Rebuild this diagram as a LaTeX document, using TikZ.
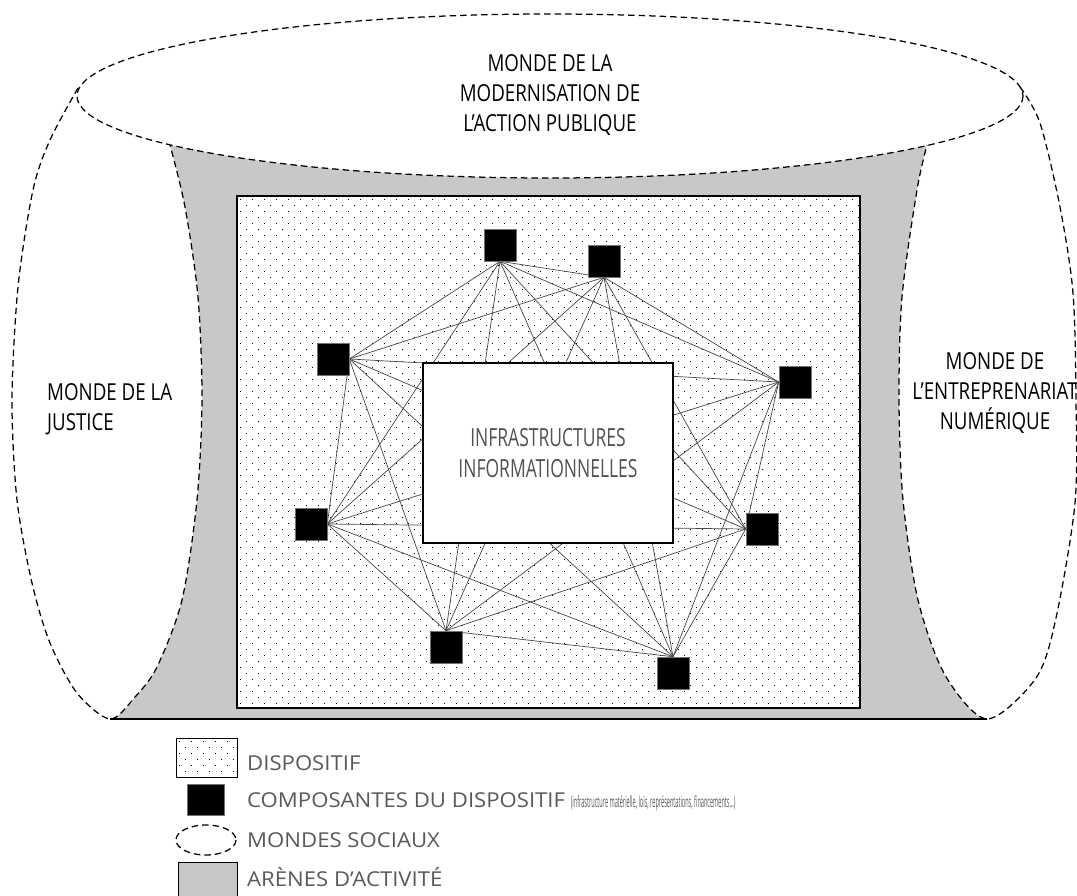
\documentclass[tikz,border=0pt]{standalone}
\usepackage{fontspec}
\setmainfont{Open Sans}
\newfontfamily\titlefont[FakeStretch=0.8]{Open Sans}
\newfontfamily\lightfont[FakeStretch=0.7]{Open Sans}
\newfontfamily\legfont[FakeStretch=1.08]{Open Sans}
\newfontfamily\smallfont[FakeStretch=0.36]{Open Sans}
\definecolor{arena}{HTML}{C8C8C8}
\tikzset{
  world/.style={draw=black, line width=1.25pt, dash pattern=on 6.5pt off 4pt},
  comp/.style={draw=black!55, fill=black, minimum size=32pt, inner sep=0pt, line width=0.6pt},
  link/.style={draw=black!72, line width=0.7pt},
  infobox/.style={draw=black, fill=white, line width=1.2pt, minimum width=250pt, minimum height=180pt, inner sep=0pt},
  title/.style={font=\titlefont\fontsize{23.4}{30}\selectfont, align=center, inner sep=0pt},
  infotext/.style={font=\lightfont\fontsize{25}{31}\selectfont, text=black!68, align=center, inner sep=0pt},
  legtext/.style={font=\legfont\fontsize{20.5}{24}\selectfont, text=black!65, inner sep=0pt, anchor=base west},
}
\begin{document}
\begin{tikzpicture}[x=1pt,y=-1pt]
\useasboundingbox (0,0) rectangle (1077,896);
% arena (grey)
\fill[arena] plot[domain=143.3:37.2,samples=80] ({550+473*cos(\x)},{96+82*sin(\x)})
  -- (986,719) -- (112,719) -- cycle;
% worlds white interior
\fill[white] plot[smooth] coordinates {(78,88) (50,140) (33,190) (18,287) (12,400) (17,500) (32,583) (50,643) (77,693) (110,719) (135,697) (157,667) (182,600) (197,500) (202,400) (198,297) (185,207) (170,145)} -- cycle;
\fill[white] plot[smooth] coordinates {(1020,87) (1040,123) (1060,207) (1073,293) (1076,400) (1075,503) (1056,618) (1036,678) (987,719) (945,675) (918,600) (903,500) (899,400) (902,297) (917,190) (927,145)} -- cycle;
% dispositif
\node[draw=black, fill=white, line width=1.5pt, minimum width=623pt, minimum height=512pt, inner sep=0pt] (disp) at (548.5,452) {};
\begin{scope}
  \clip (238,197) rectangle (859,707);
  \foreach \r in {0,...,85} {
    \pgfmathsetmacro\off{mod(\r,2)*6}
    \foreach \c in {0,...,52} {
      \fill (240+\off+12*\c,199+6*\r) rectangle ++(1.45,1.45);
    }
  }
\end{scope}
% components
\node[comp] (c1) at (500,245) {};
\node[comp] (c2) at (604,261) {};
\node[comp] (c3) at (333,359) {};
\node[comp] (c4) at (795,382) {};
\node[comp] (c5) at (311,524) {};
\node[comp] (c6) at (762,529) {};
\node[comp] (c7) at (446,647) {};
\node[comp] (c8) at (673,673) {};
\coordinate (p1) at (c1.south);
\coordinate (p2) at (c2.south);
\coordinate (p3) at (c3.east);
\coordinate (p4) at (c4.west);
\coordinate (p5) at (c5.east);
\coordinate (p6) at (c6.west);
\coordinate (p7) at (c7.north);
\coordinate (p8) at (c8.north);
\foreach \i in {1,...,7} {
  \pgfmathtruncatemacro\k{\i+1}
  \foreach \j in {\k,...,8} {
    \draw[link] (p\i) -- (p\j);
  }
}
% redraw squares above links
\foreach \n in {1,...,8} { \node[comp] at (c\n) {}; }
% central box
\node[infobox] (info) at (548,453) {};
\node[infotext] (infolabel) at (548,453) {INFRASTRUCTURES\\INFORMATIONNELLES};
% bottom line
\draw[line width=1.2pt] (110,719) -- (987,719);
% worlds dashed
\draw[world] plot[smooth] coordinates {(78,88) (50,140) (33,190) (18,287) (12,400) (17,500) (32,583) (50,643) (77,693) (110,719) (135,697) (157,667) (182,600) (197,500) (202,400) (198,297) (185,207) (170,145)};
\draw[world] plot[smooth] coordinates {(1020,87) (1040,123) (1060,207) (1073,293) (1076,400) (1075,503) (1056,618) (1036,678) (987,719) (945,675) (918,600) (903,500) (899,400) (902,297) (917,190) (927,145)};
\draw[world] (550,96) ellipse [x radius=473, y radius=82];
% labels
\node[title] (tmod) at (550,95) {MONDE DE LA\\MODERNISATION DE\\L’ACTION PUBLIQUE};
\node[title, align=left, anchor=west] (tjus) at (47,409) {MONDE DE LA\\JUSTICE};
\node[title] (tent) at (995,393) {MONDE DE\\L’ENTREPRENARIAT\\NUMÉRIQUE};
% legend
\node[draw=black, line width=0.9pt, fill=white, minimum width=61pt, minimum height=39pt, inner sep=0pt] (ld) at (206.5,757.5) {};
\begin{scope}
  \clip (177,739) rectangle (236,776);
  \foreach \r in {0,...,6} {
    \pgfmathsetmacro\off{mod(\r,2)*6}
    \foreach \c in {0,...,5} {
      \fill (179+\off+12*\c,741+6*\r) rectangle ++(1.45,1.45);
    }
  }
\end{scope}
\node[comp, minimum width=37pt, minimum height=31pt] (lc) at (205.5,799.5) {};
\draw[world] (206,840) ellipse [x radius=30, y radius=15];
\node[draw=black, line width=0.9pt, fill=arena, minimum width=59pt, minimum height=40pt, inner sep=0pt] (la) at (207.5,882) {};
\node[legtext] (t1) at (247,770) {DISPOSITIF};
\node[legtext] (t2) at (247,807) {COMPOSANTES DU DISPOSITIF {\smallfont\fontsize{15.5}{17}\selectfont (infrastructure matérielle, lois, représentations, financements…)}};
\node[legtext] (t3) at (247,847) {MONDES SOCIAUX};
\node[legtext] (t4) at (247,886) {ARÈNES D’ACTIVITÉ};
\end{tikzpicture}
\end{document}
